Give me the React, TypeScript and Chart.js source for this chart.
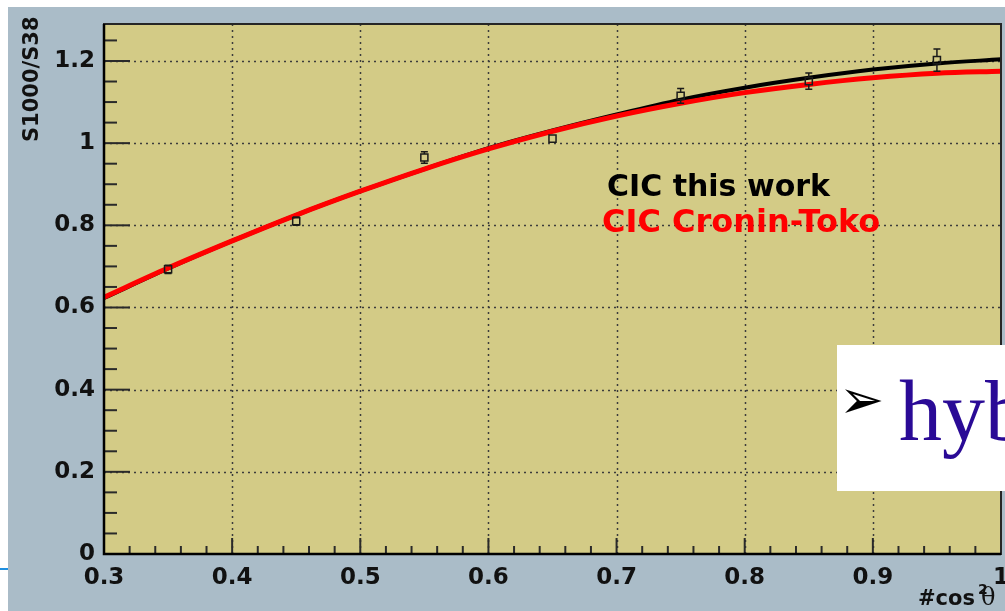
import React, { useEffect, useRef } from "react";
import { Chart, registerables } from "chart.js";

Chart.register(...registerables);

// ---------------- data ----------------
const X_MIN = 0.3;
const X_MAX = 1.0;
const Y_MIN = 0;
const Y_MAX = 1.29;
const X_MINOR_STEP = 0.02;
const Y_MINOR_STEP = 0.05;
const X_MAJOR_STEP = 0.1;
const Y_MAJOR_STEP = 0.2;

const pointX = [0.35, 0.45, 0.55, 0.65, 0.75, 0.85, 0.95];
const pointY = [0.693, 0.81, 0.965, 1.011, 1.115, 1.151, 1.202];
const pointErr = [0.01, 0.01, 0.014, 0.008, 0.018, 0.02, 0.027];

const curveX = [0.3, 0.35, 0.4, 0.45, 0.5, 0.55, 0.6, 0.65, 0.7, 0.75, 0.8, 0.85, 0.9, 0.95, 1.0];
const thisWorkY = [0.623, 0.695, 0.762, 0.825, 0.883, 0.937, 0.988, 1.031, 1.07, 1.106, 1.135, 1.159, 1.179, 1.194, 1.204];
const croninTokoY = [0.625, 0.696, 0.762, 0.825, 0.883, 0.937, 0.986, 1.029, 1.066, 1.097, 1.123, 1.143, 1.159, 1.17, 1.175];

const legendLabels = ["CIC this work", "CIC Cronin-Toko"];
const yTitle = "S1000/S38";
const xTitleMain = "#cos";
const xTitleSup = "2";
const xTitleEnd = "θ";
const slideBullet = "➢";
const slideText = "hyb";

// ---------------- styles ----------------
const OUTER_BG = "#aabcc8";
const PLOT_BG = "#d3cb86";
const SANS = "'DejaVu Sans', sans-serif";

const isMultiple = (v: number, step: number) => Math.abs(v / step - Math.round(v / step)) < 1e-6;

function buildTicks(min: number, max: number, step: number) {
  const out: { value: number }[] = [];
  const n = Math.round((max - min) / step);
  for (let i = 0; i <= n; i++) out.push({ value: +(min + i * step).toFixed(4) });
  return out;
}

const decorPlugin = {
  id: "rootStyle",
  beforeDraw(chart: any) {
    const { ctx, chartArea: ca } = chart;
    ctx.save();
    ctx.fillStyle = OUTER_BG;
    ctx.fillRect(8, 7, chart.width - 8, chart.height - 7);
    ctx.fillStyle = PLOT_BG;
    ctx.fillRect(ca.left, ca.top, ca.right - ca.left, ca.bottom - ca.top);
    ctx.restore();
  },
  beforeDatasetsDraw(chart: any) {
    const { ctx, chartArea: ca, scales } = chart;
    const x = scales.x;
    const y = scales.y;
    ctx.save();
    // dotted grid at major ticks
    ctx.strokeStyle = "#3c3c3c";
    ctx.lineWidth = 1.5;
    ctx.setLineDash([2, 4]);
    for (const t of x.ticks) {
      if (!isMultiple(t.value, X_MAJOR_STEP) || t.value <= X_MIN + 1e-6 || t.value >= X_MAX - 1e-6) continue;
      const px = Math.round(x.getPixelForValue(t.value)) + 0.5;
      ctx.beginPath();
      ctx.moveTo(px, ca.top);
      ctx.lineTo(px, ca.bottom);
      ctx.stroke();
    }
    for (const t of y.ticks) {
      if (!isMultiple(t.value, Y_MAJOR_STEP) || t.value <= Y_MIN + 1e-6) continue;
      const py = Math.round(y.getPixelForValue(t.value)) + 0.5;
      ctx.beginPath();
      ctx.moveTo(ca.left, py);
      ctx.lineTo(ca.right, py);
      ctx.stroke();
    }
    ctx.setLineDash([]);
    // inward tick marks
    ctx.strokeStyle = "#2a2a2a";
    ctx.lineWidth = 2;
    for (const t of x.ticks) {
      if (!isMultiple(t.value, X_MINOR_STEP)) continue;
      const len = isMultiple(t.value, X_MAJOR_STEP) ? 16 : 8;
      const px = x.getPixelForValue(t.value);
      ctx.beginPath();
      ctx.moveTo(px, ca.bottom);
      ctx.lineTo(px, ca.bottom - len);
      ctx.stroke();
    }
    for (const t of y.ticks) {
      if (!isMultiple(t.value, Y_MINOR_STEP)) continue;
      const len = isMultiple(t.value, Y_MAJOR_STEP) ? 26 : 13;
      const py = y.getPixelForValue(t.value);
      ctx.beginPath();
      ctx.moveTo(ca.left, py);
      ctx.lineTo(ca.left + len, py);
      ctx.stroke();
    }
    ctx.restore();
  },
  afterDatasetsDraw(chart: any) {
    const { ctx, chartArea: ca, scales } = chart;
    const x = scales.x;
    const y = scales.y;
    ctx.save();
    // error bars
    ctx.strokeStyle = "#1a1a1a";
    ctx.lineWidth = 1.5;
    const half = 3.5;
    pointX.forEach((vx, i) => {
      const px = x.getPixelForValue(vx);
      const pc = y.getPixelForValue(pointY[i]);
      const pTop = y.getPixelForValue(pointY[i] + pointErr[i]);
      const pBot = y.getPixelForValue(pointY[i] - pointErr[i]);
      ctx.beginPath();
      if (pTop < pc - half) {
        ctx.moveTo(px, pc - half);
        ctx.lineTo(px, pTop);
        ctx.moveTo(px - 3.5, pTop);
        ctx.lineTo(px + 3.5, pTop);
      }
      if (pBot > pc + half) {
        ctx.moveTo(px, pc + half);
        ctx.lineTo(px, pBot);
        ctx.moveTo(px - 3.5, pBot);
        ctx.lineTo(px + 3.5, pBot);
      }
      ctx.stroke();
    });
    // frame
    ctx.strokeStyle = "#262626";
    ctx.lineWidth = 2;
    ctx.strokeRect(ca.left, ca.top, ca.right - ca.left, ca.bottom - ca.top);
    ctx.strokeStyle = "#000";
    ctx.lineWidth = 2.5;
    ctx.beginPath();
    ctx.moveTo(ca.left, ca.top);
    ctx.lineTo(ca.left, ca.bottom);
    ctx.lineTo(ca.right, ca.bottom);
    ctx.stroke();

    // legend text
    ctx.textBaseline = "alphabetic";
    ctx.textAlign = "left";
    ctx.font = `bold 30px ${SANS}`;
    ctx.fillStyle = "#000";
    ctx.fillText(legendLabels[0], 607, 196);
    ctx.font = `bold 32px ${SANS}`;
    ctx.fillStyle = "#ff0000";
    ctx.fillText(legendLabels[1], 602, 232);

    // y title
    ctx.fillStyle = "#111";
    ctx.font = `bold 21px ${SANS}`;
    ctx.save();
    ctx.translate(38, 142);
    ctx.rotate(-Math.PI / 2);
    ctx.fillText(yTitle, 0, 0);
    ctx.restore();

    // x title
    ctx.font = `bold 21px ${SANS}`;
    ctx.fillText(xTitleMain, 918, 605);
    const w = ctx.measureText(xTitleMain).width;
    ctx.font = `bold 14px ${SANS}`;
    ctx.fillText(xTitleSup, 918 + w + 3, 594);
    ctx.font = `24px 'DejaVu Serif', serif`;
    ctx.fillText(xTitleEnd, 918 + w + 6, 605);
    ctx.restore();
  },
};

export default function App() {
  const ref = useRef<HTMLCanvasElement | null>(null);

  useEffect(() => {
    document.documentElement.style.overflow = "hidden";
    document.body.style.overflow = "hidden";
    const canvas = ref.current;
    if (!canvas) return;
    const chart = new Chart(canvas, {
      type: "line",
      data: {
        datasets: [
          {
            label: "data",
            data: pointX.map((vx, i) => ({ x: vx, y: pointY[i] })),
            showLine: false,
            pointStyle: "rect",
            pointRadius: 5,
            pointBorderWidth: 1.5,
            pointBorderColor: "#1a1a1a",
            pointBackgroundColor: "rgba(0,0,0,0)",
          } as any,
          {
            label: legendLabels[1],
            data: curveX.map((vx, i) => ({ x: vx, y: croninTokoY[i] })),
            borderColor: "#ff0000",
            borderWidth: 5,
            pointRadius: 0,
            cubicInterpolationMode: "monotone",
            fill: false,
          },
          {
            label: legendLabels[0],
            data: curveX.map((vx, i) => ({ x: vx, y: thisWorkY[i] })),
            borderColor: "#000000",
            borderWidth: 4,
            pointRadius: 0,
            cubicInterpolationMode: "monotone",
            fill: false,
          },
        ],
      },
      options: {
        animation: false,
        responsive: false,
        maintainAspectRatio: false,
        events: [],
        layout: { padding: { left: 0, top: 24, right: 19, bottom: 0 } },
        plugins: { legend: { display: false }, tooltip: { enabled: false }, title: { display: false } },
        scales: {
          x: {
            type: "linear",
            min: X_MIN,
            max: X_MAX,
            grid: { display: false },
            border: { display: false },
            afterBuildTicks: (s: any) => {
              s.ticks = buildTicks(X_MIN, X_MAX, X_MINOR_STEP);
            },
            afterFit: (s: any) => {
              s.height = 57;
            },
            ticks: {
              autoSkip: false,
              maxRotation: 0,
              minRotation: 0,
              padding: 2,
              color: "#111",
              font: { family: SANS, weight: "bold", size: 23 },
              callback: (v: any) => (isMultiple(Number(v), X_MAJOR_STEP) ? String(+Number(v).toFixed(1)) : ""),
            },
          },
          y: {
            type: "linear",
            min: Y_MIN,
            max: Y_MAX,
            grid: { display: false },
            border: { display: false },
            afterBuildTicks: (s: any) => {
              s.ticks = buildTicks(Y_MIN, 1.25, Y_MINOR_STEP);
            },
            afterFit: (s: any) => {
              s.width = 104;
            },
            ticks: {
              autoSkip: false,
              padding: 1,
              color: "#111",
              font: { family: SANS, weight: "bold", size: 23 },
              callback: (v: any) => (isMultiple(Number(v), Y_MAJOR_STEP) ? String(+Number(v).toFixed(1)) : ""),
            },
          },
        },
      },
      plugins: [decorPlugin],
    } as any);
    return () => chart.destroy();
  }, []);

  return (
    <div style={{ position: "fixed", left: 0, top: 0, width: 1005, height: 611, overflow: "hidden" }}>
      <canvas ref={ref} width={1020} height={611} style={{ position: "absolute", left: 0, top: 0, width: 1020, height: 611 }} />
      <div style={{ position: "absolute", left: 0, top: 568, width: 8, height: 2, background: "#1e8fe0" }} />
      <div
        style={{
          position: "absolute",
          left: 837,
          top: 345,
          width: 200,
          height: 146,
          background: "#ffffff",
          overflow: "hidden",
        }}
      >
        <span
          style={{
            position: "absolute",
            left: 2,
            top: 20,
            fontFamily: "'DejaVu Sans', sans-serif",
            fontSize: 54,
            lineHeight: "70px",
            color: "#000",
          }}
        >
          {slideBullet}
        </span>
        <span
          style={{
            position: "absolute",
            left: 62,
            top: 23,
            fontFamily: "'Liberation Serif', serif",
            fontSize: 86,
            lineHeight: "86px",
            color: "#2a0a96",
            whiteSpace: "nowrap",
          }}
        >
          {slideText}
        </span>
      </div>
    </div>
  );
}
